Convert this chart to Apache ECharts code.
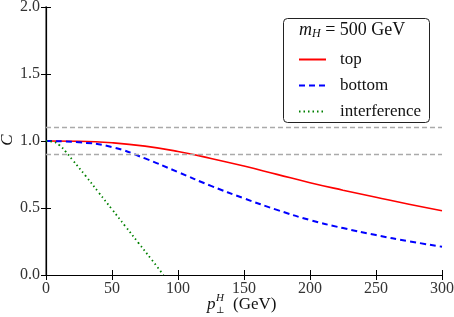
<!DOCTYPE html>
<html><head><meta charset="utf-8">
<script src="https://cdn.jsdelivr.net/npm/echarts@6/dist/echarts.min.js"></script>
<style>html,body{margin:0;padding:0;background:#fff}#c{width:454px;height:317px}</style>
</head><body><div id="c"></div>
<script>
const xTicks = [0, 50, 100, 150, 200, 250, 300];
const yTicks = [0.0, 0.5, 1.0, 1.5, 2.0];
const refLines = [0.9, 1.1];
const pT = [0, 25, 50, 75, 100, 125, 150, 175, 200, 225, 250, 275, 300];
const topC = [1.0, 0.998, 0.987, 0.962, 0.922, 0.87, 0.813, 0.751, 0.689, 0.633, 0.58, 0.528, 0.48];
const bottomC = [1.0, 0.99, 0.955, 0.87, 0.768, 0.665, 0.572, 0.486, 0.41, 0.35, 0.298, 0.252, 0.211];
const interfPT = [0, 5, 10, 15, 20, 30, 40, 50, 60, 70, 80, 89];
const interfC = [1.0, 0.995, 0.97, 0.92, 0.86, 0.74, 0.615, 0.49, 0.365, 0.24, 0.115, 0.0];

const F = '"Liberation Serif", "Times New Roman", serif';
const chart = echarts.init(document.getElementById('c'));
const zip = (xs, ys) => xs.map((x, i) => [x, ys[i]]);
const tickStyle = {show: true, inside: true, length: 5, lineStyle: {color: '#000', width: 1}};
chart.setOption({
  animation: false,
  textStyle: {fontFamily: F},
  grid: {left: 46, right: 12, top: 7, bottom: 42, containLabel: false, outerBoundsMode: 'none'},
  xAxis: [
    {type: 'value', min: 0, max: 300, interval: 50, position: 'bottom',
     axisLine: {show: true, lineStyle: {color: '#000', width: 1.2}}, axisTick: tickStyle,
     splitLine: {show: false},
     axisLabel: {fontFamily: F, fontSize: 16, color: '#333', margin: 6,
       formatter: v => xTicks.includes(v) ? String(v) : ''}},
    {type: 'value', min: 0, max: 300, interval: 50, position: 'top',
     axisLine: {show: true, lineStyle: {color: '#000', width: 1.2}}, axisTick: tickStyle,
     splitLine: {show: false}, axisLabel: {show: false}}
  ],
  yAxis: [
    {type: 'value', min: 0, max: 2, interval: 0.5, position: 'left',
     axisLine: {show: true, lineStyle: {color: '#888', width: 2}}, axisTick: tickStyle,
     splitLine: {show: false},
     axisLabel: {fontFamily: F, fontSize: 16, color: '#333', margin: 6,
       formatter: v => yTicks.find(t => Math.abs(t - v) < 1e-9) !== undefined ? v.toFixed(1) : ''}},
    {type: 'value', min: 0, max: 2, interval: 0.5, position: 'right',
     axisLine: {show: true, lineStyle: {color: '#000', width: 1.2}}, axisTick: tickStyle,
     splitLine: {show: false}, axisLabel: {show: false}}
  ],
  legend: {
    orient: 'vertical', left: 293, top: 46, itemWidth: 27, itemHeight: 10, itemGap: 9,
    itemStyle: {opacity: 0},
    textStyle: {fontFamily: F, fontSize: 17, color: '#111', padding: [0, 0, 0, 9]},
    data: ['top', 'bottom', 'interference']
  },
  series: [
    {name: 'top', type: 'line', data: zip(pT, topC), smooth: true, symbol: 'none', clip: true,
     lineStyle: {color: '#ff0000', width: 1.6},
     itemStyle: {color: '#ff0000'},
     markLine: {silent: true, symbol: 'none', label: {show: false},
       lineStyle: {color: '#aaa', type: [5, 3], width: 1.3},
       data: refLines.map(v => ({yAxis: v}))}},
    {name: 'bottom', type: 'line', data: zip(pT, bottomC), smooth: true, symbol: 'none', clip: true,
     lineStyle: {color: '#0000ff', width: 2, type: [6, 4]}, itemStyle: {color: '#0000ff'}},
    {name: 'interference', type: 'line', data: zip(interfPT, interfC), smooth: true, symbol: 'none', clip: true,
     lineStyle: {color: '#008000', width: 1.8, type: [1.5, 3]}, itemStyle: {color: '#008000'}}
  ],
  graphic: [
    {type: 'rect', left: 283, top: 18, shape: {width: 146, height: 104, r: 4}, z: -1,
     style: {fill: '#fff', stroke: '#222', lineWidth: 1}},
    {type: 'text', left: 299, top: 21, style: {
      rich: {i: {fontFamily: F, fontStyle: 'italic', fontSize: 18, fill: '#111'},
             s: {fontFamily: F, fontStyle: 'italic', fontSize: 12, fill: '#111', padding: [7, 0, 0, 0]},
             n: {fontFamily: F, fontSize: 18, fill: '#111'}},
      text: '{i|m}{s|H}{n| = 500 GeV}'}},
    {type: 'text', x: 8, y: 140, rotation: Math.PI / 2, style: {
      text: 'C', fontFamily: F, fontStyle: 'italic', fontSize: 17, fill: '#111', align: 'center', verticalAlign: 'middle'}},
    {type: 'group', left: 207, top: 293, children: [
      {type: 'text', x: 0, y: 0, style: {text: 'p', fontFamily: F, fontStyle: 'italic', fontSize: 17, fill: '#111'}},
      {type: 'text', x: 9, y: -3, style: {text: 'H', fontFamily: F, fontStyle: 'italic', fontSize: 11, fill: '#111'}},
      {type: 'text', x: 9, y: 10, style: {text: '⊥', fontFamily: 'DejaVu Serif', fontSize: 9, fill: '#111'}},
      {type: 'text', x: 26, y: 0, style: {text: '(GeV)', fontFamily: F, fontSize: 17, fill: '#111'}}
    ]}
  ]
});
</script></body></html>
